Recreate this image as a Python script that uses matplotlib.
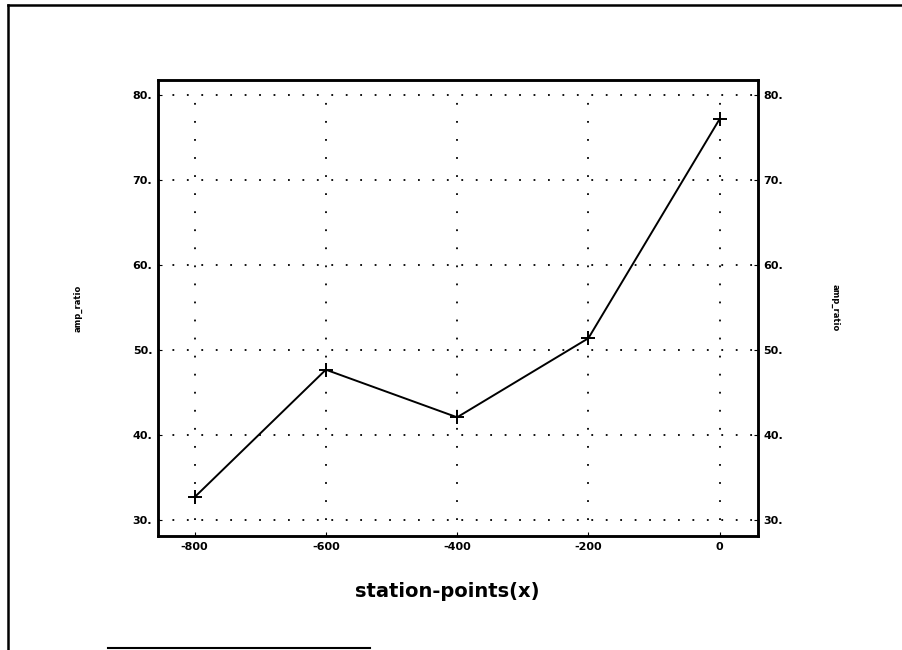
import numpy as np
import matplotlib
matplotlib.use("Agg")
import matplotlib.pyplot as plt
from matplotlib.lines import Line2D

# data
station = [-800, -600, -400, -200, 0]
amp_ratio = [32.7, 47.7, 42.1, 51.4, 77.2]
xticks = [-800, -600, -400, -200, 0]
yticks = [30, 40, 50, 60, 70, 80]
ytick_labels = ["30.", "40.", "50.", "60.", "70.", "80."]

fig = plt.figure(figsize=(9.02, 6.5), dpi=100)
ax = fig.add_axes([0.175, 0.175, 0.665, 0.702])

ax.plot(station, amp_ratio, color="black", lw=1.4, marker="+", ms=10, mew=1.4)

ax.set_xlim(-856, 58)
ax.set_ylim(28.1, 81.8)

# dotted grid, sparse dots like the scan
ax.hlines(yticks, -856, 58, color="black", lw=1.3, ls=(0, (1, 7)), zorder=0)
ax.vlines(xticks, yticks[0], yticks[-1], color="black", lw=1.3, ls=(0, (1, 9)), zorder=0)

ax.set_xticks(xticks)
ax.set_xticklabels([str(v) for v in xticks], fontsize=8, fontweight="bold")
ax.set_yticks(yticks)
ax.set_yticklabels(ytick_labels, fontsize=8, fontweight="bold")
ax.tick_params(axis="both", direction="in", length=3, pad=4)

ax2 = ax.twinx()
ax2.set_ylim(ax.get_ylim())
ax2.set_yticks(yticks)
ax2.set_yticklabels(ytick_labels, fontsize=8, fontweight="bold")
ax2.tick_params(axis="y", direction="in", length=3, pad=4)

for a in (ax, ax2):
    for s in a.spines.values():
        s.set_linewidth(1.8)

ax.set_xlabel("station-points(x)", fontsize=14, fontweight="bold")
ax.xaxis.set_label_coords(0.483, -0.1)
ax.set_ylabel("amp_ratio", fontsize=6, fontweight="bold", labelpad=36)
ax2.set_ylabel("amp_ratio", fontsize=6, fontweight="bold", rotation=270, labelpad=41)

# page frame from the scan
fig.add_artist(Line2D([8 / 902, 8 / 902], [0, 1 - 5 / 650], color="black", lw=1.8))
fig.add_artist(Line2D([8 / 902, 1], [1 - 5 / 650, 1 - 5 / 650], color="black", lw=1.8))
fig.add_artist(Line2D([108 / 902, 370 / 902], [2 / 650, 2 / 650], color="black", lw=1.5))

fig.savefig("out.png", dpi=100)
